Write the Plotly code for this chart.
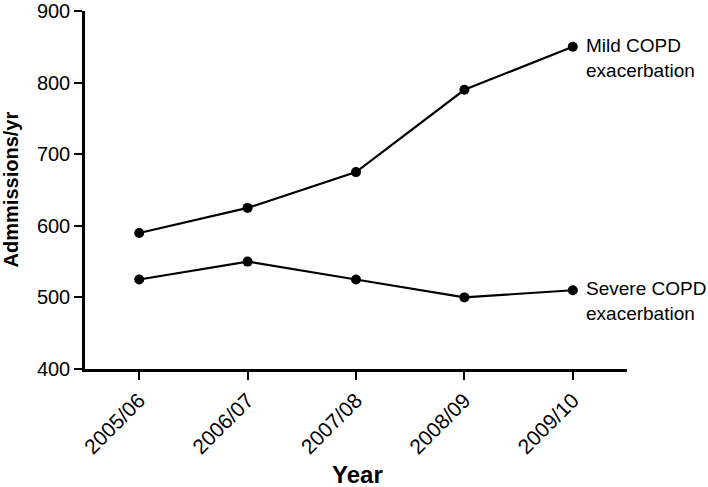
import plotly.graph_objects as go

years = ["2005/06", "2006/07", "2007/08", "2008/09", "2009/10"]
mild = [590, 625, 675, 790, 850]
severe = [525, 550, 525, 500, 510]
series_labels = ["Mild COPD<br>exacerbation", "Severe COPD<br>exacerbation"]
y_ticks = [400, 500, 600, 700, 800, 900]
x_title = "Year"
y_title = "Admmissions/yr"

FONT = "Liberation Sans, Arial, sans-serif"

fig = go.Figure()
for vals in (mild, severe):
    fig.add_trace(go.Scatter(
        x=years, y=vals, mode="lines+markers",
        line=dict(color="black", width=2.2),
        marker=dict(color="black", size=10),
        showlegend=False, cliponaxis=False,
    ))

for vals, lab in zip((mild, severe), series_labels):
    fig.add_annotation(
        x=years[-1], y=vals[-1], text=lab, showarrow=False,
        xanchor="left", yanchor="top", align="left",
        xshift=11, yshift=14,
        font=dict(family=FONT, size=19, color="black"),
    )

fig.add_annotation(
    xref="paper", yref="paper", x=0.502, y=-0.294,
    text=f"<b>{x_title}</b>", showarrow=False,
    xanchor="center", yanchor="middle",
    font=dict(family=FONT, size=24, color="black"),
)
fig.add_annotation(
    xref="paper", yref="paper", x=-0.137, y=0.501,
    text=f"<b>{y_title}</b>", showarrow=False, textangle=-90,
    xanchor="center", yanchor="middle",
    font=dict(family=FONT, size=20, color="black"),
)

fig.update_layout(
    template="none",
    width=708, height=487,
    margin=dict(l=85, r=81, t=11, b=118, autoexpand=False),
    paper_bgcolor="white", plot_bgcolor="white",
    font=dict(family=FONT, color="black"),
)
fig.update_xaxes(
    type="category", range=[-0.5, 4.5], automargin=False,
    showline=True, linecolor="black", linewidth=2.5,
    ticks="outside", ticklen=8, tickwidth=2, tickcolor="black",
    tickangle=-45, tickfont=dict(size=21, family=FONT, color="black"),
    ticklabeloverflow="allow",
    showgrid=False, zeroline=False,
)
fig.update_yaxes(
    range=[400, 900], tickvals=y_ticks, automargin=False,
    showline=True, linecolor="black", linewidth=2.5,
    ticks="outside", ticklen=8, tickwidth=2, tickcolor="black",
    tickfont=dict(size=20, family=FONT, color="black"),
    ticklabeloverflow="allow",
    showgrid=False, zeroline=False,
)

fig.write_html(
    "out.html",
    config={"displayModeBar": False},
    post_script="document.body.style.margin='0';document.body.style.overflow='hidden';",
)
